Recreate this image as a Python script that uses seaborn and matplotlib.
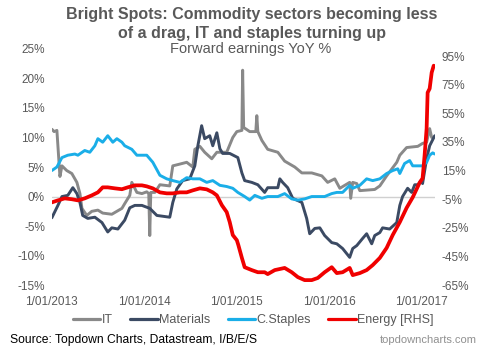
import pandas as pd
import matplotlib.pyplot as plt
from matplotlib.lines import Line2D
import seaborn as sns

# ==========================================
# Data
# ==========================================
it_dates = ["2013-01-01", "2013-01-10", "2013-01-21", "2013-02-02", "2013-02-10", "2013-03-01",
            "2013-03-21", "2013-04-10", "2013-04-22", "2013-04-30", "2013-05-19", "2013-06-08",
            "2013-07-02", "2013-07-21", "2013-08-26", "2013-09-15", "2013-10-05", "2013-10-16",
            "2013-11-05", "2013-11-13", "2013-12-03", "2013-12-23", "2014-01-11", "2014-01-19",
            "2014-01-23", "2014-01-27", "2014-02-12", "2014-03-04", "2014-04-12", "2014-04-24",
            "2014-05-22", "2014-06-18", "2014-07-12", "2014-07-20", "2014-08-09", "2014-08-28",
            "2014-09-25", "2014-10-15", "2014-11-23", "2014-12-17", "2015-01-02", "2015-01-22",
            "2015-01-25", "2015-01-29", "2015-02-22", "2015-03-18", "2015-03-22", "2015-03-26",
            "2015-04-11", "2015-05-04", "2015-06-13", "2015-07-10", "2015-08-19", "2015-09-16",
            "2015-10-25", "2015-12-04", "2015-12-27", "2016-01-24", "2016-02-13", "2016-03-23",
            "2016-03-27", "2016-04-04", "2016-04-20", "2016-05-02", "2016-06-30", "2016-07-20",
            "2016-08-16", "2016-09-25", "2016-10-07", "2016-11-03", "2016-12-17", "2017-01-05",
            "2017-01-21", "2017-02-02", "2017-02-10"]
it_vals = [11.4, 11.0, 11.2, 3.4, 5.2, 4.4,
           3.9, 2.4, 0.5, -2.0, -3.2, -2.5,
           -2.3, -2.8, -3.0, -2.5, -2.0, -1.2,
           0.2, 2.4, 0.7, 0.5, 0.8, 0.5,
           -6.6, 0.7, 0.7, 2.0, 1.8, 5.2,
           5.5, 5.8, 5.0, 8.0, 8.5, 7.5,
           6.4, 7.5, 7.5, 10.0, 11.0, 11.2,
           21.4, 11.7, 11.0, 11.0, 13.7, 11.0,
           9.5, 8.0, 7.5, 6.0, 5.0, 4.0,
           4.0, 3.5, 2.4, 3.0, 1.4, 2.4,
           -0.3, 2.4, 2.2, 1.0, 1.2, 1.8,
           3.5, 5.8, 7.0, 8.3, 8.5, 9.0,
           9.2, 11.5, 10.0]

mat_dates = ["2013-01-01", "2013-01-25", "2013-02-10", "2013-03-05", "2013-03-25", "2013-04-10",
             "2013-04-22", "2013-05-03", "2013-05-23", "2013-06-20", "2013-07-18", "2013-08-10",
             "2013-08-26", "2013-09-19", "2013-10-16", "2013-11-05", "2013-11-25", "2013-12-23",
             "2014-01-23", "2014-02-20", "2014-04-12", "2014-04-24", "2014-05-10", "2014-06-02",
             "2014-06-30", "2014-07-20", "2014-08-01", "2014-08-16", "2014-08-28", "2014-09-17",
             "2014-09-29", "2014-10-15", "2014-10-27", "2014-11-07", "2014-12-05", "2015-01-06",
             "2015-01-22", "2015-02-02", "2015-03-02", "2015-03-26", "2015-04-22", "2015-05-04",
             "2015-06-13", "2015-06-21", "2015-07-02", "2015-07-22", "2015-08-11", "2015-09-16",
             "2015-10-05", "2015-10-17", "2015-11-06", "2015-11-26", "2015-12-15", "2016-01-12",
             "2016-02-01", "2016-02-24", "2016-03-23", "2016-04-04", "2016-04-20", "2016-05-13",
             "2016-05-29", "2016-06-18", "2016-06-30", "2016-07-20", "2016-07-31", "2016-08-28",
             "2016-09-25", "2016-10-07", "2016-10-18", "2016-11-07", "2016-11-23", "2016-12-05",
             "2016-12-17", "2017-01-01", "2017-01-05", "2017-01-21", "2017-02-02", "2017-02-22"]
mat_vals = [-3.6, -1.5, 0.0, 0.2, 1.5, 0.5,
            -1.0, -3.2, -3.7, -3.5, -4.4, -6.0,
            -5.3, -5.5, -4.0, -1.9, -1.5, -1.5,
            -2.0, -3.2, -3.5, -1.0, 1.3, 2.7,
            3.0, 5.2, 8.6, 12.0, 9.8, 10.3,
            8.6, 10.8, 8.1, 7.3, 7.3, 6.6,
            4.0, 2.7, 2.4, 2.0, 0.7, 1.5,
            1.5, 3.0, 2.4, 1.5, -0.3, -1.0,
            -3.7, -6.3, -5.4, -5.3, -6.6, -7.8,
            -8.0, -8.8, -10.3, -8.8, -8.3, -7.1,
            -6.3, -8.0, -6.6, -6.1, -5.3, -5.5,
            -4.4, -1.5, 0.0, 1.4, 0.7, 2.0,
            2.0, 2.7, 2.2, 6.4, 8.6, 10.3]

stap_dates = ["2013-01-01", "2013-01-21", "2013-02-10", "2013-03-05", "2013-04-02", "2013-04-14",
              "2013-05-11", "2013-05-31", "2013-06-20", "2013-07-02", "2013-07-21", "2013-08-10",
              "2013-08-30", "2013-09-15", "2013-10-05", "2013-10-16", "2013-11-13", "2013-12-03",
              "2013-12-23", "2014-01-11", "2014-02-04", "2014-03-04", "2014-03-31", "2014-04-24",
              "2014-05-22", "2014-06-18", "2014-07-12", "2014-08-09", "2014-09-05", "2014-09-29",
              "2014-10-27", "2014-11-23", "2014-12-17", "2015-01-06", "2015-02-02", "2015-02-22",
              "2015-03-14", "2015-04-11", "2015-05-04", "2015-06-13", "2015-07-10", "2015-08-07",
              "2015-08-31", "2015-09-27", "2015-10-25", "2015-11-18", "2015-12-15", "2016-01-12",
              "2016-02-01", "2016-02-24", "2016-03-23", "2016-04-04", "2016-05-02", "2016-05-29",
              "2016-06-22", "2016-07-20", "2016-08-16", "2016-09-09", "2016-09-29", "2016-10-07",
              "2016-10-26", "2016-11-15", "2016-11-27", "2016-12-25", "2017-01-05", "2017-01-21",
              "2017-02-02", "2017-02-14", "2017-02-22"]
stap_vals = [4.4, 5.0, 6.6, 7.0, 7.2, 7.0,
             7.8, 7.5, 8.6, 9.8, 9.2, 10.3,
             9.2, 9.8, 9.2, 8.6, 8.0, 7.0,
             7.0, 7.0, 5.8, 3.6, 3.0, 2.7,
             2.4, 3.2, 3.0, 3.0, 2.4, 2.7,
             1.9, 1.7, 1.4, 0.7, 0.0, -0.6,
             0.2, -0.3, 0.0, 0.0, 0.5, -0.4,
             -0.6, -0.4, 0.0, 0.0, 0.0, 0.5,
             0.7, 0.7, 1.9, 1.4, 1.9, 3.0,
             2.7, 3.0, 3.9, 4.4, 4.7, 3.9,
             5.6, 6.1, 5.2, 5.2, 5.2, 5.8,
             7.0, 7.4, 7.2]

en_dates = ["2013-01-01", "2013-01-25", "2013-02-21", "2013-03-21", "2013-04-14", "2013-05-11",
            "2013-06-08", "2013-07-02", "2013-07-21", "2013-08-10", "2013-09-07", "2013-10-05",
            "2013-10-28", "2013-11-25", "2013-12-23", "2014-01-11", "2014-02-04", "2014-03-04",
            "2014-03-31", "2014-04-24", "2014-05-22", "2014-06-18", "2014-07-12", "2014-08-09",
            "2014-09-05", "2014-09-29", "2014-10-15", "2014-11-04", "2014-11-23", "2014-12-05",
            "2014-12-17", "2015-01-02", "2015-01-08", "2015-01-22", "2015-02-02", "2015-03-02",
            "2015-03-26", "2015-04-22", "2015-05-04", "2015-06-01", "2015-07-10", "2015-08-07",
            "2015-08-31", "2015-09-27", "2015-10-25", "2015-11-18", "2015-12-15", "2016-01-12",
            "2016-02-01", "2016-02-24", "2016-03-23", "2016-04-04", "2016-05-02", "2016-05-29",
            "2016-06-22", "2016-07-20", "2016-08-16", "2016-09-09", "2016-10-07", "2016-11-03",
            "2016-11-27", "2016-12-25", "2017-01-05", "2017-01-13", "2017-01-21", "2017-01-25",
            "2017-02-02", "2017-02-10", "2017-02-18"]
en_vals = [-7.2, -5.8, -4.4, -5.0, -5.8, -4.4,
           -2.3, -0.2, 3.3, 3.3, 2.6, 2.0,
           3.3, 4.7, 4.7, 4.0, 2.6, -0.2,
           -0.9, -0.9, -0.2, -0.2, 1.2, 2.6,
           1.9, -0.2, -2.3, -9.2, -14.0, -21.0,
           -30.0, -33.6, -37.0, -46.0, -52.5, -54.5,
           -56.0, -56.0, -57.3, -54.5, -53.0, -56.0,
           -59.4, -61.5, -61.5, -60.0, -56.0, -52.5,
           -56.6, -56.0, -53.0, -58.0, -56.6, -54.5,
           -51.0, -46.0, -39.0, -30.0, -21.0, -11.0,
           -3.7, 6.8, 9.6, 25.6, 44.4, 69.5,
           72.3, 83.5, 88.3]

left_ticks = [-15, -10, -5, 0, 5, 10, 15, 20, 25]
right_ticks = [-65, -45, -25, -5, 15, 35, 55, 75, 95]
year_ticks = ["2013-01-01", "2014-01-01", "2015-01-01", "2016-01-01", "2017-01-01"]

c_it, c_mat, c_stap, c_en = "#898989", "#3b4a63", "#1aaee8", "#f00000"
txt = "#595959"

# ==========================================
# Plot
# ==========================================
sns.set_style("white")
plt.rcParams['font.family'] = ['Liberation Sans', 'DejaVu Sans']

fig = plt.figure(figsize=(4.89, 3.52), dpi=100)
ax = fig.add_axes([0.106, 0.19, 0.783, 0.671])
ax2 = ax.twinx()

def frame(d, v):
    return pd.DataFrame({"date": pd.to_datetime(d), "value": v})

ax.axhline(0, color="#d0d0d0", lw=1, zorder=0)
sns.lineplot(data=frame(it_dates, it_vals), x="date", y="value", ax=ax, color=c_it, lw=2.1)
sns.lineplot(data=frame(mat_dates, mat_vals), x="date", y="value", ax=ax, color=c_mat, lw=2.1)
sns.lineplot(data=frame(stap_dates, stap_vals), x="date", y="value", ax=ax, color=c_stap, lw=2.1)
sns.lineplot(data=frame(en_dates, en_vals), x="date", y="value", ax=ax2, color=c_en, lw=2.7)

ax.set_xlim(pd.Timestamp("2013-01-01"), pd.Timestamp("2017-02-22"))
ax.set_ylim(-15, 25)
ax2.set_ylim(-65, 100)
ax.set_yticks(left_ticks)
ax.set_yticklabels([f"{t}%" for t in left_ticks])
ax2.set_yticks(right_ticks)
ax2.set_yticklabels([f"{t}%" for t in right_ticks])
xt = pd.to_datetime(year_ticks)
ax.set_xticks(xt)
ax.set_xticklabels([f"1/01/{d.year}" for d in xt])

for a in (ax, ax2):
    a.set_xlabel("")
    a.set_ylabel("")
    for s in a.spines.values():
        s.set_visible(False)
    a.tick_params(length=0, labelsize=8.5, labelcolor=txt, pad=5)
ax.tick_params(axis="x", pad=8)

# title lines and subtitle
fig.text(0.515, 0.960, "Bright Spots: Commodity sectors becoming less", ha="center", va="center",
         fontsize=11.5, fontweight="bold", color=txt)
fig.text(0.515, 0.906, "of a drag, IT and staples turning up", ha="center", va="center",
         fontsize=11.5, fontweight="bold", color=txt)
fig.text(0.512, 0.861, "Forward earnings YoY %", ha="center", va="center", fontsize=10.5, color=txt)

handles = [Line2D([], [], color=c, lw=2.3) for c in (c_it, c_mat, c_stap, c_en)]
fig.legend(handles, ["IT", "Materials", "C.Staples", "Energy [RHS]"], loc="center",
           bbox_to_anchor=(0.518, 0.09), ncol=4, frameon=False, fontsize=9,
           handlelength=2.2, handletextpad=0.1, columnspacing=1.4, labelcolor=txt)

fig.text(0.02, 0.034, "Source: Topdown Charts, Datastream, I/B/E/S", ha="left", va="center",
         fontsize=8.7, color="black")
fig.text(0.976, 0.034, "topdowncharts.com", ha="right", va="center", fontsize=8, color="#909090")

fig.savefig("out.png", dpi=100)
